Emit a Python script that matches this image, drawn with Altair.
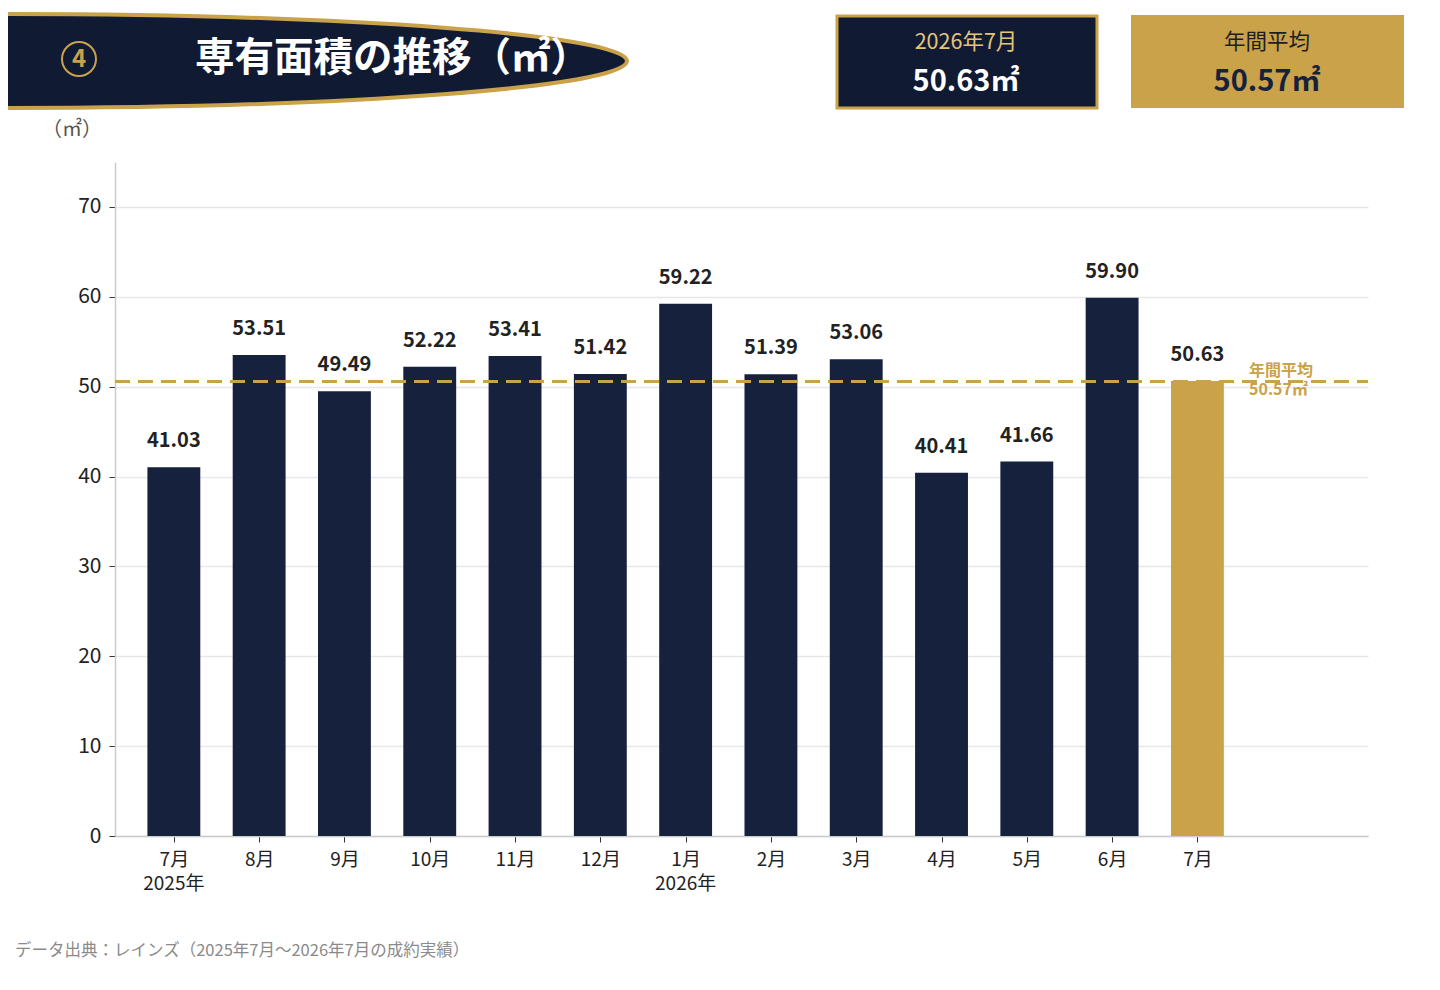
import altair as alt
import pandas as pd

months = ["7月", "8月", "9月", "10月", "11月", "12月", "1月", "2月", "3月", "4月", "5月", "6月", "7月"]
values = [41.03, 53.51, 49.49, 52.22, 53.41, 51.42, 59.22, 51.39, 53.06, 40.41, 41.66, 59.90, 50.63]
year_labels = ["2025年", "2026年"]
year_idx = [0, 6]
avg_value = 50.57
latest_label = "2026年7月"
latest_value = "50.63㎡"
avg_title = "年間平均"
avg_text = "50.57㎡"
title_text = "専有面積の推移（㎡）"
source_text = "データ出典：レインズ（2025年7月〜2026年7月の成約実績）"

NAVY = "#15213d"
GOLD = "#c9a24a"
FONT = "Noto Sans CJK JP"

W, H = 1253, 674
PL, PT = 107, 154

df = pd.DataFrame({"idx": list(range(len(values))), "month": months, "value": values})
df["hl"] = ["latest" if i == len(values) - 1 else "past" for i in range(len(values))]
df["label"] = [f"{v:.2f}" for v in values]

xs = alt.Scale(domain=[-0.69, 14.0], nice=False, zero=False, padding=0)
ys = alt.Scale(domain=[0, 75], nice=False, padding=0)

base = alt.Chart(df)

label_expr = "[" + ",".join(f"'{m}'" for m in months) + "][datum.value]"

bars = base.transform_calculate(
    x0="datum.idx - 0.31", x1="datum.idx + 0.31"
).mark_bar().encode(
    x=alt.X("x0:Q", scale=xs, axis=alt.Axis(
        values=list(range(len(values))), labelExpr=label_expr, title=None, grid=False,
        domainColor="#cccccc", domainWidth=1.5, tickColor="#333333", tickSize=6,
        labelFontSize=19, labelColor="#222222", labelFont=FONT, labelPadding=8)),
    x2="x1:Q",
    y=alt.Y("value:Q", scale=ys, axis=alt.Axis(
        values=list(range(0, 80, 10)), title=None, grid=True, gridColor="#e8e8e8", gridWidth=1.5,
        domainColor="#cccccc", domainWidth=1.5, tickColor="#333333", tickSize=6,
        labelFontSize=21, labelColor="#222222", labelFont=FONT, labelPadding=8)),
    y2=alt.datum(0),
    color=alt.Color("hl:N", scale=alt.Scale(domain=["past", "latest"], range=[NAVY, GOLD]), legend=None),
)

bar_labels = base.mark_text(baseline="bottom", dy=-16, fontSize=20, fontWeight="bold",
                            color="#222222", font=FONT).encode(
    x=alt.X("idx:Q", scale=xs), y=alt.Y("value:Q", scale=ys), text="label:N")

avg_df = pd.DataFrame({"avg": [avg_value], "txt": [avg_title + "\n" + avg_text]})
avg_rule = alt.Chart(avg_df).mark_rule(color=GOLD, strokeWidth=3, strokeDash=[15, 8]).encode(
    y=alt.Y("avg:Q", scale=ys), x=alt.value(0), x2=alt.value(W))
avg_lbl = alt.Chart(avg_df).mark_text(align="left", baseline="middle", dy=-11, fontSize=16,
                                      lineBreak="\n", lineHeight=19,
                                      fontWeight="bold", color=GOLD, font=FONT).encode(
    y=alt.Y("avg:Q", scale=ys), x=alt.value(1249 - 115), text="txt:N")

year_df = pd.DataFrame({"idx": year_idx, "yl": year_labels})
years = alt.Chart(year_df).mark_text(baseline="middle", fontSize=19, color="#222222", font=FONT).encode(
    x=alt.X("idx:Q", scale=xs), y=alt.value(884 - 162), text="yl:N")

# Header decorations (page coords converted to plot coords)
def px(x):
    return x - 115

def py(y):
    return y - 162

hdr = pd.DataFrame({"a": [0]})
ellipse_path = "M -1 0 A 1 0.075 0 1 0 1 0 A 1 0.075 0 1 0 -1 0 Z"
banner = alt.Chart(hdr).mark_point(shape=ellipse_path, filled=True, fill="#111a33",
                                   stroke=GOLD, strokeWidth=4, size=1254 ** 2, opacity=1).encode(
    x=alt.value(px(0)), y=alt.value(py(61)))
circle = alt.Chart(hdr).mark_point(shape="circle", filled=False, stroke=GOLD, strokeWidth=2,
                                   size=34 ** 2, opacity=1).encode(
    x=alt.value(px(79)), y=alt.value(py(59)))
circle_num = alt.Chart(hdr).mark_text(text="4", fontSize=24, fontWeight="bold", color=GOLD,
                                      font=FONT, baseline="middle").encode(
    x=alt.value(px(79)), y=alt.value(py(60)))
title = alt.Chart(hdr).mark_text(text=title_text, fontSize=39.5, fontWeight="bold", color="white",
                                 font=FONT, align="left", baseline="middle").encode(
    x=alt.value(px(195)), y=alt.value(py(59)))

box1 = alt.Chart(hdr).mark_rect(fill="#111a33", stroke=GOLD, strokeWidth=3).encode(
    x=alt.value(px(837)), x2=alt.value(px(1097)), y=alt.value(py(16)), y2=alt.value(py(108)))
box1_t1 = alt.Chart(hdr).mark_text(text=latest_label, fontSize=21.5, color="#e3c47c", font=FONT,
                                   baseline="middle").encode(
    x=alt.value(px(966)), y=alt.value(py(43)))
box1_t2 = alt.Chart(hdr).mark_text(text=latest_value, fontSize=29, fontWeight="bold", color="white",
                                   font=FONT, baseline="middle").encode(
    x=alt.value(px(966)), y=alt.value(py(82)))
box2 = alt.Chart(hdr).mark_rect(fill=GOLD).encode(
    x=alt.value(px(1131)), x2=alt.value(px(1404)), y=alt.value(py(15)), y2=alt.value(py(108)))
box2_t1 = alt.Chart(hdr).mark_text(text=avg_title, fontSize=21.5, color="#1e1e1e", font=FONT,
                                   baseline="middle").encode(
    x=alt.value(px(1267)), y=alt.value(py(43)))
box2_t2 = alt.Chart(hdr).mark_text(text=avg_text, fontSize=29, fontWeight="bold", color=NAVY,
                                   font=FONT, baseline="middle").encode(
    x=alt.value(px(1267)), y=alt.value(py(82)))

unit = alt.Chart(hdr).mark_text(text="（㎡）", fontSize=20, color="#555555", font=FONT,
                                baseline="middle").encode(
    x=alt.value(px(72)), y=alt.value(py(130)))
source = alt.Chart(hdr).mark_text(text=source_text, fontSize=16.5, color="#8a8a8a", font=FONT,
                                  align="left", baseline="middle").encode(
    x=alt.value(px(15)), y=alt.value(py(951)))

chart = alt.layer(
    bars, avg_rule, bar_labels, avg_lbl, years,
    banner, circle, circle_num, title,
    box1, box1_t1, box1_t2, box2, box2_t1, box2_t2, unit, source,
).properties(
    width=W, height=H,
    autosize=alt.AutoSizeParams(type="none"),
    padding={"left": PL, "top": PT, "right": 64, "bottom": 140},
    background="white",
).configure_view(stroke=None)

chart.save("out.html", embed_options={"renderer": "svg", "actions": False})
